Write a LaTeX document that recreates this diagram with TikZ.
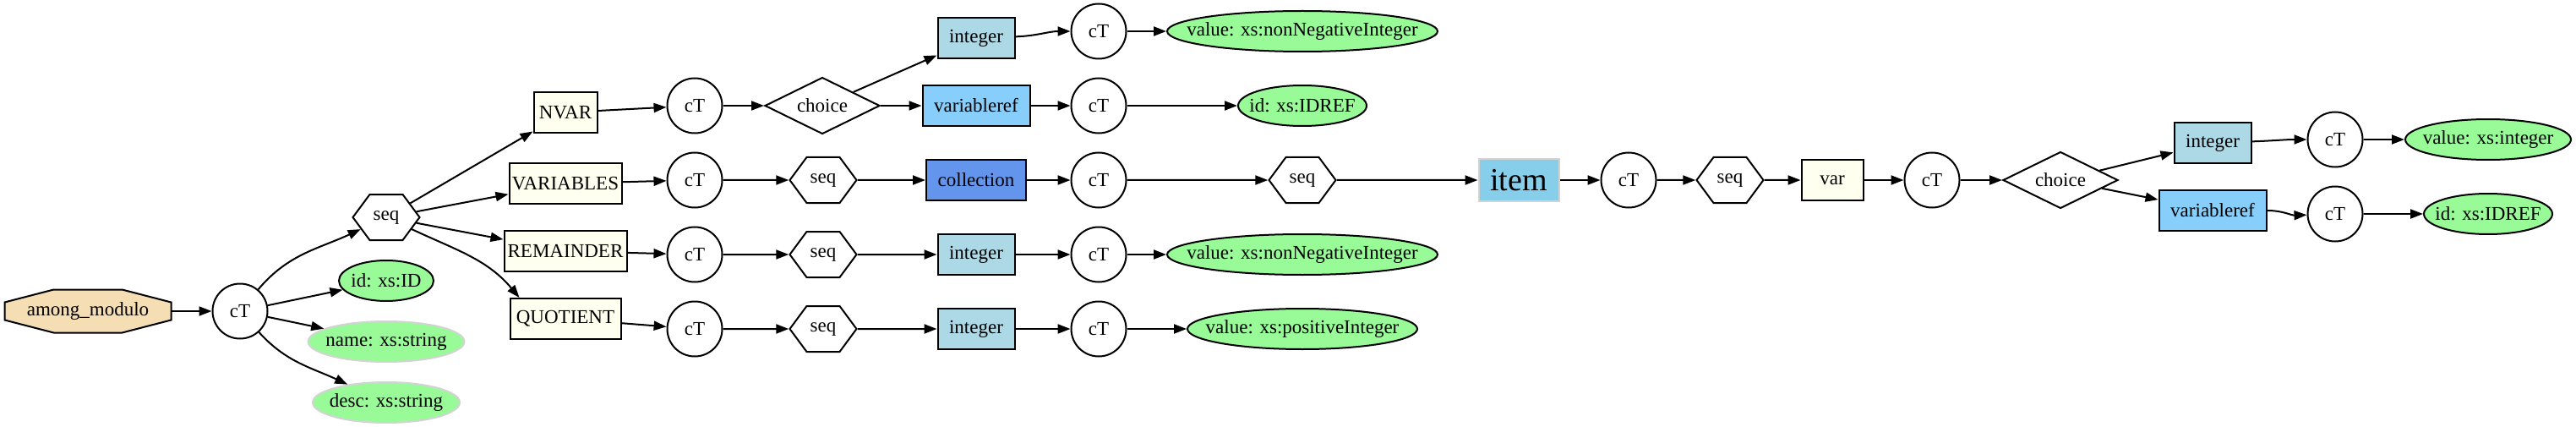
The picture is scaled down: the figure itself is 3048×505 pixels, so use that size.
\documentclass[tikz,border=0pt]{standalone}
\usepackage{fontspec}
\setmainfont{Liberation Serif}
\usetikzlibrary{shapes.geometric,shapes.misc,shapes.symbols,arrows.meta}
\definecolor{wheat}{HTML}{F5DEB3}
\definecolor{palegreen}{HTML}{98FB98}
\definecolor{ivory}{HTML}{FFFFF0}
\definecolor{lightblue}{HTML}{ADD8E6}
\definecolor{lightskyblue}{HTML}{87CEFA}
\definecolor{cornflower}{HTML}{6495ED}
\definecolor{skyblue}{HTML}{87CEEB}
\definecolor{lgray}{HTML}{D3D3D3}
\newcommand{\zw}[1]{\makebox[0pt]{#1}}
\begin{document}
\begin{tikzpicture}[x=1pt,y=-1pt,
  every node/.style={font=\fontsize{23}{27}\selectfont, inner sep=0pt},
  base/.style={draw=black, line width=2pt},
  ctnode/.style={base, circle, fill=white, minimum size=65pt},
  seqnode/.style={base, signal, signal to=east and west, signal pointer angle=107, fill=white, minimum width=79pt, minimum height=54pt},
  choicenode/.style={base, diamond, aspect=2, fill=white, minimum width=136pt, minimum height=67pt},
  elemnode/.style={base, rectangle, fill=ivory, minimum height=48pt},
  intnode/.style={base, rectangle, fill=lightblue, minimum width=91pt, minimum height=48pt},
  vrefnode/.style={base, rectangle, fill=lightskyblue, minimum width=127pt, minimum height=48pt},
  attrnode/.style={base, ellipse, fill=palegreen, minimum height=48pt},
  optattr/.style={ellipse, draw=lgray, line width=2pt, fill=palegreen, minimum height=48pt},
  conn/.style={line width=2pt, -{Triangle[length=15pt,width=11pt]}},
]
\useasboundingbox (0,0) rectangle (3048,505);

% root (stretched octagon)
\draw[base, fill=wheat, shift={(104,368)}]
  (-40.5,-25.5) -- (40.5,-25.5) -- (98.5,-10.5) -- (98.5,10.5) -- (40.5,25.5)
  -- (-40.5,25.5) -- (-98.5,10.5) -- (-98.5,-10.5) -- cycle;
\node[rectangle, minimum width=197pt, minimum height=51pt] (am) at (104,368) {among\_modulo};
\node[ctnode] (ct1) at (284,368) {cT};
\node[seqnode] (seq1) at (457,257) {seq};
\node[attrnode, minimum width=112pt] (id1) at (457,332) {\zw{id: xs:ID}};
\node[optattr, minimum width=185pt] (name1) at (457,404) {\zw{name: xs:string}};
\node[optattr, minimum width=174pt] (desc1) at (457,476) {\zw{desc: xs:string}};

% children of seq1
\node[elemnode, minimum width=75pt] (nvar) at (669,133) {NVAR};
\node[elemnode, minimum width=133pt] (vars) at (669,217) {\zw{VARIABLES}};
\node[elemnode, minimum width=145pt] (rem) at (669,297) {\zw{REMAINDER}};
\node[elemnode, minimum width=131pt] (quot) at (669,377) {\zw{QUOTIENT}};

% NVAR branch
\node[ctnode] (ctn) at (822,125) {cT};
\node[choicenode] (chn) at (973,125) {choice};
\node[intnode] (intn) at (1155,45) {integer};
\node[vrefnode] (vrn) at (1155,125) {variableref};
\node[ctnode] (ctni) at (1300,37) {cT};
\node[ctnode] (ctnv) at (1300,125) {cT};
\node[attrnode, minimum width=320pt] (valn) at (1541,37) {\zw{value: xs:nonNegativeInteger}};
\node[attrnode, minimum width=152pt] (idn) at (1541,125) {\zw{id: xs:IDREF}};

% VARIABLES branch
\node[ctnode] (ctv) at (822,213) {cT};
\node[seqnode] (seqv) at (974,213) {seq};
\node[base, rectangle, fill=cornflower, minimum width=118pt, minimum height=48pt] (coll) at (1155,213) {collection};
\node[ctnode] (ctc) at (1300,213) {cT};
\node[seqnode] (seqc) at (1541,213) {seq};
\node[rectangle, draw=lgray, line width=2pt, fill=skyblue, minimum width=95pt, minimum height=50pt, font=\fontsize{38}{42}\selectfont] (item) at (1797,213) {\zw{item}};
\node[ctnode] (cti) at (1927,213) {cT};
\node[seqnode] (seqi) at (2047,213) {seq};
\node[elemnode, minimum width=73pt] (var) at (2168,213) {var};
\node[ctnode] (ctvar) at (2286,213) {cT};
\node[choicenode] (chv) at (2438,213) {choice};
\node[intnode] (intv) at (2618,169) {integer};
\node[vrefnode] (vrv) at (2618,249) {variableref};
\node[ctnode] (ctvi) at (2763,165) {cT};
\node[ctnode] (ctvv) at (2763,253) {cT};
\node[attrnode, minimum width=196pt] (valv) at (2944,165) {\zw{value: xs:integer}};
\node[attrnode, minimum width=152pt] (idv) at (2944,253) {\zw{id: xs:IDREF}};

% REMAINDER branch
\node[ctnode] (ctr) at (822,301) {cT};
\node[seqnode] (seqr) at (974,301) {seq};
\node[intnode] (intr) at (1155,301) {integer};
\node[ctnode] (ctri) at (1300,301) {cT};
\node[attrnode, minimum width=320pt] (valr) at (1541,301) {\zw{value: xs:nonNegativeInteger}};

% QUOTIENT branch
\node[ctnode] (ctq) at (822,389) {cT};
\node[seqnode] (seqq) at (974,389) {seq};
\node[intnode] (intq) at (1155,389) {integer};
\node[ctnode] (ctqi) at (1300,389) {cT};
\node[attrnode, minimum width=272pt] (valq) at (1541,389) {\zw{value: xs:positiveInteger}};

% edges
\draw[conn] (am) -- (ct1);
\draw[conn] (ct1) to[out=50,in=-155] (seq1);
\draw[conn] (ct1) -- (id1);
\draw[conn] (ct1) -- (name1);
\draw[conn] (ct1) to[out=-48,in=155] (desc1);

\draw[conn] (seq1) -- (nvar);
\draw[conn] (seq1) -- (vars);
\draw[conn] (seq1) -- (rem);
\draw[conn] (seq1) to[out=-25,in=130] ([xshift=12pt]quot.north west);

\draw[conn] (nvar) -- (ctn);
\draw[conn] (ctn) -- (chn);
\draw[conn] (chn) -- (intn);
\draw[conn] (chn) -- (vrn);
\draw[conn] (intn) to[out=2,in=180] (ctni);
\draw[conn] (vrn) -- (ctnv);
\draw[conn] (ctni) -- (valn);
\draw[conn] (ctnv) -- (idn);

\draw[conn] (vars) -- (ctv);
\draw[conn] (ctv) -- (seqv);
\draw[conn] (seqv) -- (coll);
\draw[conn] (coll) -- (ctc);
\draw[conn] (ctc) -- (seqc);
\draw[conn] (seqc) -- (item);
\draw[conn] (item) -- (cti);
\draw[conn] (cti) -- (seqi);
\draw[conn] (seqi) -- (var);
\draw[conn] (var) -- (ctvar);
\draw[conn] (ctvar) -- (chv);
\draw[conn] (chv) -- (intv);
\draw[conn] (chv) -- (vrv);
\draw[conn] (intv) to[out=2,in=180] (ctvi);
\draw[conn] (vrv) to[out=0,in=182] (ctvv);
\draw[conn] (ctvi) -- (valv);
\draw[conn] (ctvv) -- (idv);

\draw[conn] (rem) -- (ctr);
\draw[conn] (ctr) -- (seqr);
\draw[conn] (seqr) -- (intr);
\draw[conn] (intr) -- (ctri);
\draw[conn] (ctri) -- (valr);

\draw[conn] (quot) -- (ctq);
\draw[conn] (ctq) -- (seqq);
\draw[conn] (seqq) -- (intq);
\draw[conn] (intq) -- (ctqi);
\draw[conn] (ctqi) -- (valq);
\end{tikzpicture}
\end{document}
